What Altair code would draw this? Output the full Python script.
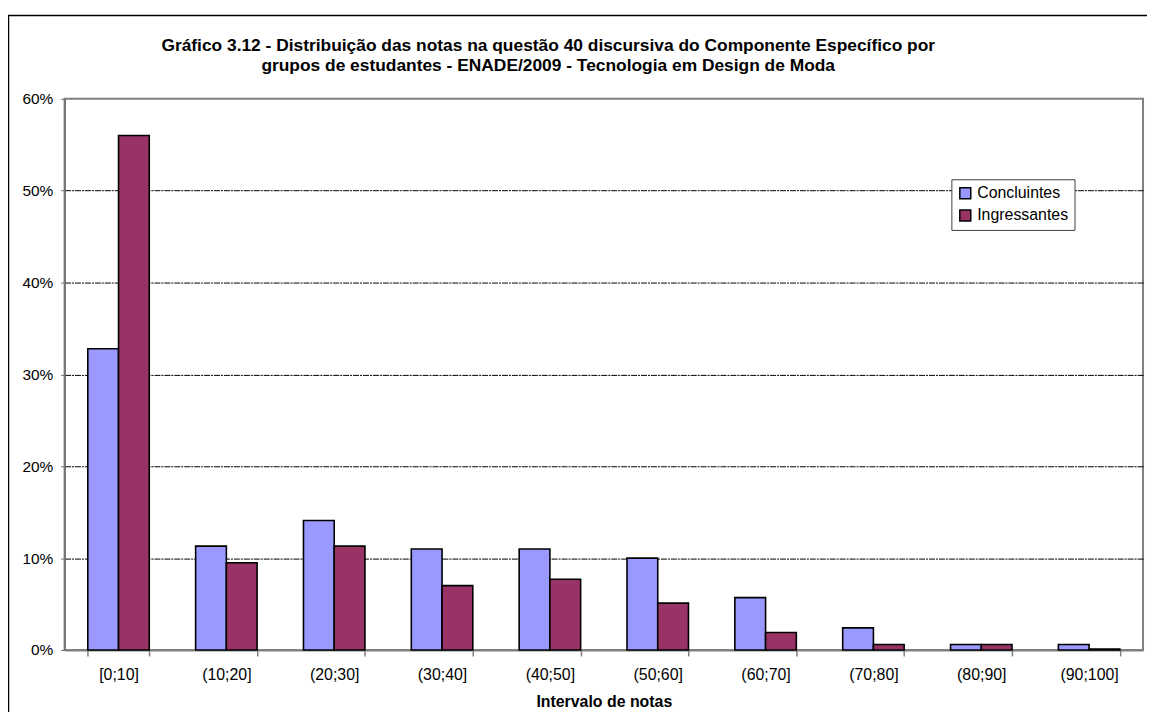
import altair as alt
import pandas as pd

categories = ["[0;10]", "(10;20]", "(20;30]", "(30;40]", "(40;50]",
              "(50;60]", "(60;70]", "(70;80]", "(80;90]", "(90;100]"]
series = ["Concluintes", "Ingressantes"]
concluintes = [32.8, 11.3, 14.1, 11.0, 11.0, 10.0, 5.7, 2.4, 0.6, 0.6]
ingressantes = [56.0, 9.5, 11.3, 7.0, 7.7, 5.1, 1.9, 0.6, 0.6, 0.1]
colors = ["#9999FF", "#993366"]
y_ticks = [0, 10, 20, 30, 40, 50, 60]
title_lines = [
    "Gráfico 3.12 - Distribuição das notas na questão 40 discursiva do Componente Específico por",
    "grupos de estudantes - ENADE/2009 - Tecnologia em Design de Moda",
]
x_title = "Intervalo de notas"

rows = []
for c, a, b in zip(categories, concluintes, ingressantes):
    rows.append({"intervalo": c, "grupo": series[0], "pct": a})
    rows.append({"intervalo": c, "grupo": series[1], "pct": b})
df = pd.DataFrame(rows)

FONT = "Liberation Sans"
W, H = 1086, 555

bars = alt.Chart(df).mark_bar(stroke="black", strokeWidth=1.6).encode(
    x=alt.X("intervalo:N", sort=categories,
            scale=alt.Scale(paddingInner=0.43, paddingOuter=0.215),
            axis=alt.Axis(title=x_title, labelAngle=0, tickBand="extent",
                          domainColor="#808080", domainWidth=2,
                          tickColor="#808080", tickWidth=1.5, tickSize=6,
                          labelPadding=11, labelFontSize=16, labelColor="black",
                          labelFont=FONT, titleFont=FONT, titleFontSize=16,
                          titleFontWeight="bold", titleColor="black",
                          titleY=52, titleBaseline="middle")),
    xOffset=alt.XOffset("grupo:N", sort=series,
                        scale=alt.Scale(paddingInner=0, paddingOuter=0)),
    y=alt.Y("pct:Q", scale=alt.Scale(domain=[0, 60], nice=False),
            axis=alt.Axis(title=None, values=y_ticks,
                          labelExpr="datum.value + '%'",
                          domainColor="#707070", domainWidth=1.5,
                          tickColor="#707070", tickSize=4, labelPadding=8,
                          labelFontSize=15.5, labelFont=FONT, labelColor="black",
                          grid=True, gridColor="black", gridWidth=1,
                          gridDash=[6, 1, 2, 1],
                          gridOpacity=alt.condition("datum.value == 0 || datum.value == 60",
                                                    alt.value(0), alt.value(1)))),
    color=alt.Color("grupo:N", sort=series,
                    scale=alt.Scale(domain=series, range=colors),
                    legend=alt.Legend(title=None, orient="none", legendX=893, legendY=81,
                                      strokeColor="#404040", fillColor="white",
                                      padding=6, symbolType="square", symbolSize=121,
                                      symbolStrokeColor="black", symbolStrokeWidth=1.5,
                                      labelFontSize=16, labelFont=FONT, labelColor="black",
                                      rowPadding=4.5, labelOffset=4)),
)

one = alt.Data(values=[{"k": 1}])
border_v = alt.Chart(one).mark_rule(color="black", strokeWidth=1.5).encode(
    x=alt.value(-56.5), y=alt.value(-84), y2=alt.value(H + 80))
border_h = alt.Chart(one).mark_rule(color="black", strokeWidth=1.5).encode(
    x=alt.value(-57), x2=alt.value(W + 20), y=alt.value(-84))

t1 = alt.Chart(one).mark_text(font=FONT, fontSize=17.5, fontWeight="bold", align="center",
                              baseline="alphabetic", color="black").encode(
    x=alt.value(487), y=alt.value(-48), text=alt.value(title_lines[0]))
t2 = alt.Chart(one).mark_text(font=FONT, fontSize=17.5, fontWeight="bold", align="center",
                              baseline="alphabetic", color="black").encode(
    x=alt.value(487), y=alt.value(-28), text=alt.value(title_lines[1]))

chart = alt.layer(bars, border_v, border_h, t1, t2).properties(
    width=W, height=H,
    autosize=alt.AutoSizeParams(type="none"),
    padding={"left": 57, "top": 89, "right": 4, "bottom": 60},
    background="white",
).configure_view(stroke="#808080", strokeWidth=2)

chart.save("out.html", embed_options={"renderer": "svg", "actions": False})
